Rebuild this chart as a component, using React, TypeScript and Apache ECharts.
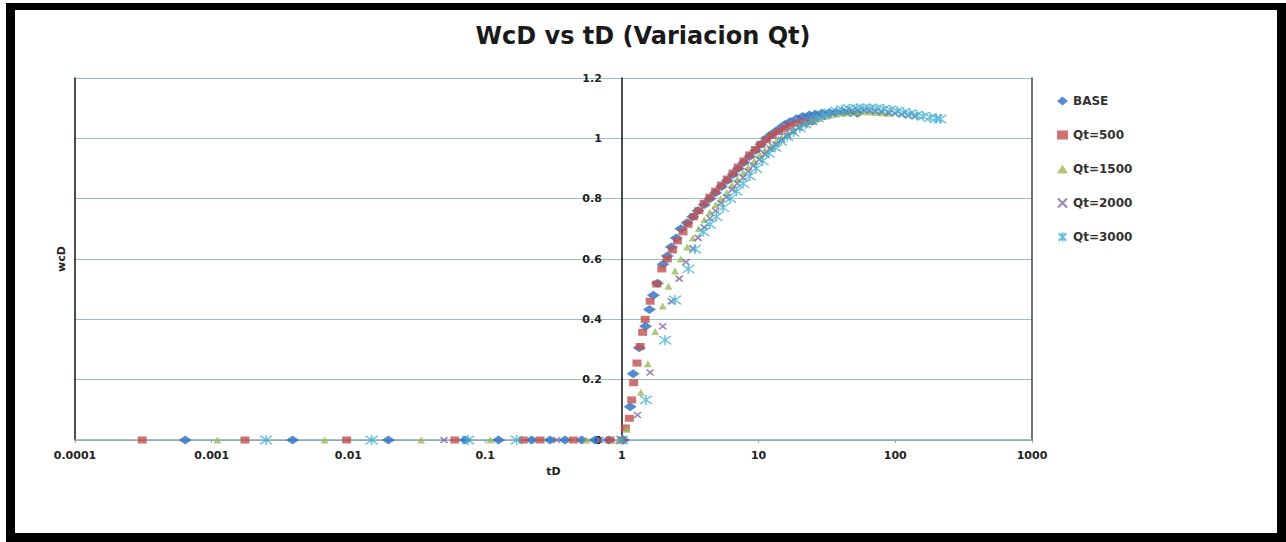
import React, { useEffect, useRef } from "react";
import * as echarts from "echarts";

const TITLE = "WcD vs tD (Variacion Qt)";
const X_NAME = "tD";
const Y_NAME = "wcD";
const xTickLabels = ["0.0001", "0.001", "0.01", "0.1", "1", "10", "100", "1000"];
const yTickLabels = ["0", "0.2", "0.4", "0.6", "0.8", "1", "1.2"];
const seriesNames = ["BASE", "Qt=500", "Qt=1500", "Qt=2000", "Qt=3000"];

// [tD, wcD] points
const baseData: [number, number][] = [
  [0.00064, 0], [0.0039, 0], [0.0196, 0], [0.0713, 0], [0.125, 0], [0.219, 0], [0.298, 0],
  [0.384, 0], [0.509, 0], [0.637, 0], [0.8, 0], [1.03, 0],
  [1.15, 0.11], [1.21, 0.22], [1.34, 0.306], [1.49, 0.377], [1.59, 0.433], [1.7, 0.48],
  [1.82, 0.52], [2.0, 0.583], [2.15, 0.61], [2.3, 0.64], [2.5, 0.67], [2.7, 0.7], [3.0, 0.72],
  [3.3, 0.74], [3.6, 0.76], [4.0, 0.78], [4.4, 0.8], [4.85, 0.82], [5.35, 0.84], [5.9, 0.86],
  [6.5, 0.88], [7.1, 0.9], [7.8, 0.92], [8.6, 0.94], [9.5, 0.96], [10.4, 0.98], [11.4, 1.0],
  [12.6, 1.015], [14, 1.03], [15.5, 1.045], [17, 1.055], [19, 1.065], [21, 1.072], [23.5, 1.077],
  [26, 1.08], [29, 1.083], [33, 1.085], [37, 1.086], [42, 1.086], [47, 1.085], [53, 1.083],
];

const qt500Data: [number, number][] = [
  [0.00031, 0], [0.00175, 0], [0.0097, 0], [0.06, 0], [0.19, 0], [0.252, 0], [0.442, 0],
  [0.82, 0], [1.0, 0],
  [1.06, 0.04], [1.135, 0.072], [1.18, 0.133], [1.22, 0.19], [1.29, 0.255], [1.36, 0.31],
  [1.42, 0.357], [1.48, 0.4], [1.61, 0.46], [1.8, 0.517], [1.96, 0.567], [2.15, 0.6],
  [2.35, 0.63], [2.55, 0.66], [2.8, 0.69], [3.05, 0.715], [3.35, 0.74], [3.65, 0.76],
  [4.0, 0.785], [4.4, 0.805], [4.85, 0.825], [5.35, 0.845], [5.9, 0.865], [6.5, 0.885],
  [7.1, 0.905], [7.8, 0.925], [8.6, 0.945], [9.5, 0.963], [10.4, 0.98], [11.4, 0.995],
  [12.6, 1.01], [14, 1.022], [15.5, 1.033], [17, 1.042], [19, 1.05], [21, 1.054], [23, 1.056],
  [24.6, 1.057],
];

const qt1500Data: [number, number][] = [
  [0.0011, 0], [0.0067, 0], [0.034, 0], [0.109, 0], [0.554, 0], [0.95, 0],
  [1.09, 0.036], [1.375, 0.158], [1.55, 0.253], [1.75, 0.36], [1.99, 0.444], [2.19, 0.51],
  [2.45, 0.56], [2.7, 0.6], [3.0, 0.64], [3.3, 0.67], [3.65, 0.7], [4.0, 0.73], [4.4, 0.755],
  [4.85, 0.78], [5.3, 0.8], [5.85, 0.82], [6.4, 0.845], [7.0, 0.865], [7.7, 0.885], [8.4, 0.905],
  [9.3, 0.925], [10.2, 0.945], [11.2, 0.96], [12.3, 0.975], [13.5, 0.99], [14.8, 1.002],
  [16.3, 1.015], [18, 1.028], [20, 1.04], [22, 1.05], [24.5, 1.058], [27, 1.066], [30, 1.072],
  [33, 1.077], [37, 1.081], [41, 1.084], [46, 1.086], [52, 1.087], [58, 1.088], [65, 1.087],
  [72, 1.086], [80, 1.085], [88, 1.083],
];

const qt2000Data: [number, number][] = [
  [0.05, 0], [0.334, 0], [0.69, 0], [1.0, 0],
  [1.3, 0.083], [1.61, 0.224], [1.99, 0.377], [2.3, 0.46], [2.63, 0.535], [2.95, 0.59],
  [3.3, 0.635], [3.61, 0.67], [4.0, 0.705], [4.4, 0.735], [4.85, 0.76], [5.3, 0.785],
  [5.8, 0.805], [6.4, 0.83], [7.0, 0.85], [7.7, 0.87], [8.4, 0.89], [9.2, 0.91], [10.1, 0.93],
  [11.1, 0.948], [12.2, 0.965], [13.4, 0.98], [14.7, 0.995], [16.2, 1.01], [17.8, 1.022],
  [19.6, 1.035], [21.6, 1.046], [23.8, 1.056], [26, 1.064], [29, 1.072], [32, 1.078],
  [35, 1.083], [39, 1.087], [43, 1.09], [48, 1.092], [53, 1.093], [59, 1.093], [65, 1.092],
  [72, 1.09], [80, 1.088], [90, 1.085], [100, 1.082], [112, 1.079], [125, 1.076], [140, 1.073],
];

const qt3000Data: [number, number][] = [
  [0.0025, 0], [0.0148, 0], [0.075, 0], [0.17, 0], [1.0, 0],
  [1.5, 0.133], [2.07, 0.331], [2.45, 0.464], [3.06, 0.567], [3.43, 0.633], [3.95, 0.69],
  [4.4, 0.715], [4.9, 0.74], [5.5, 0.77], [6.2, 0.8], [6.9, 0.825], [7.7, 0.85], [8.6, 0.875],
  [9.6, 0.9], [10.7, 0.925], [11.9, 0.95], [13.2, 0.97], [14.6, 0.99], [16.2, 1.005], [18, 1.02],
  [20, 1.035], [22, 1.047], [24.5, 1.058], [27, 1.068], [30, 1.077], [33, 1.084], [37, 1.09],
  [41, 1.095], [46, 1.098], [52, 1.1], [58, 1.1], [65, 1.1], [73, 1.099], [82, 1.097],
  [92, 1.094], [103, 1.09], [115, 1.086], [128, 1.082], [143, 1.077], [160, 1.073],
  [180, 1.069], [200, 1.066], [213, 1.064],
];

const seriesData = [baseData, qt500Data, qt1500Data, qt2000Data, qt3000Data];
const seriesColors = ["#2b6fc0", "#c0504d", "#9bbb59", "#8064a2", "#3fb0d4"];

const ASTERISK = "path://M0,0L10,10M10,0L0,10M5,-1L5,11";
const XMARK = "path://M0,0L10,10M10,0L0,10";
const seriesSymbols = ["diamond", "rect", "triangle", XMARK, ASTERISK];
const seriesSizes: [number, number][] = [[13, 9], [9, 7], [8, 7], [7, 6], [12, 10]];

const FONT = "DejaVu Sans";
const W = 1286;
const H = 542;

export default function App() {
  const ref = useRef<HTMLDivElement>(null);
  useEffect(() => {
    if (!ref.current) return;
    const chart = echarts.init(ref.current, undefined, { renderer: "svg" });
    const gridLeft = 75;
    const gridRight = 254;
    const plotW = W - gridLeft - gridRight;
    const yCrossOffset = -(plotW * 4) / 7; // vertical axis crosses at tD = 1

    const series = seriesNames.map((name, i) => ({
      name,
      type: "scatter",
      data: seriesData[i],
      symbol: seriesSymbols[i],
      symbolSize: seriesSizes[i],
      itemStyle:
        i >= 3
          ? { color: seriesColors[i], borderColor: seriesColors[i], borderWidth: i === 4 ? 1.4 : 1.6 }
          : { color: seriesColors[i] },
      emphasis: { disabled: true },
    }));

    chart.setOption({
      animation: false,
      backgroundColor: "#ffffff",
      title: {
        text: TITLE,
        left: "center",
        top: 19,
        textStyle: { fontFamily: FONT, fontWeight: "bold", fontSize: 24, color: "#1a1a1a" },
      },
      legend: {
        orient: "vertical",
        left: 1052,
        top: 89,
        itemWidth: 11,
        itemHeight: 9,
        itemGap: 20,
        data: seriesNames,
        textStyle: { fontFamily: FONT, fontWeight: "bold", fontSize: 12, color: "#333", lineHeight: 14 },
      },
      grid: { left: gridLeft, right: gridRight, top: 78, bottom: 102, containLabel: false },
      xAxis: {
        type: "log",
        logBase: 10,
        min: 0.0001,
        max: 1000,
        name: X_NAME,
        nameLocation: "middle",
        nameGap: 24,
        nameTextStyle: { fontFamily: FONT, fontWeight: "bold", fontSize: 11, color: "#222" },
        axisLine: { show: true, lineStyle: { color: "#8aa6b6", width: 1.5 } },
        axisTick: { show: true, length: 3, lineStyle: { color: "#8aa6b6" } },
        minorTick: { show: false },
        splitLine: { show: false },
        axisLabel: {
          margin: 10,
          fontFamily: FONT,
          fontWeight: "bold",
          fontSize: 11,
          color: "#222",
          formatter: (v: number) => xTickLabels[Math.round(Math.log10(v)) + 4],
        },
      },
      yAxis: [
        {
          type: "value",
          min: 0,
          max: 1.2,
          interval: 0.2,
          name: Y_NAME,
          nameLocation: "middle",
          nameGap: 8,
          nameTextStyle: { fontFamily: FONT, fontWeight: "bold", fontSize: 11, color: "#222" },
          axisLine: { show: true, onZero: false, lineStyle: { color: "#111", width: 1.5 } },
          axisTick: { show: false },
          axisLabel: { show: false },
          splitLine: { show: true, lineStyle: { color: "#9dbdcc", width: 1.2 } },
        },
        {
          type: "value",
          min: 0,
          max: 1.2,
          interval: 0.2,
          position: "left",
          offset: yCrossOffset,
          axisLine: { show: true, onZero: false, lineStyle: { color: "#111", width: 1.5 } },
          axisTick: { show: false },
          splitLine: { show: false },
          axisLabel: {
            margin: 20,
            fontFamily: FONT,
            fontWeight: "bold",
            fontSize: 11,
            color: "#222",
            formatter: (v: number) => yTickLabels[Math.round(v / 0.2)],
          },
        },
        {
          type: "value",
          min: 0,
          max: 1.2,
          interval: 0.2,
          position: "right",
          axisLine: { show: true, onZero: false, lineStyle: { color: "#444", width: 1.5 } },
          axisTick: { show: false },
          axisLabel: { show: false },
          splitLine: { show: false },
        },
      ],
      series,
      graphic: [
        { type: "rect", shape: { x: 6, y: 3, width: 1280, height: 7 }, style: { fill: "#000" }, silent: true },
        { type: "rect", shape: { x: 6, y: 3, width: 9, height: 539 }, style: { fill: "#000" }, silent: true },
        { type: "rect", shape: { x: 1277, y: 3, width: 9, height: 539 }, style: { fill: "#000" }, silent: true },
        { type: "rect", shape: { x: 6, y: 533, width: 1280, height: 9 }, style: { fill: "#000" }, silent: true },
      ],
    });
    return () => chart.dispose();
  }, []);
  return (
    <div
      ref={ref}
      style={{ position: "absolute", left: 0, top: 0, width: W, height: H, background: "#fff" }}
    />
  );
}
